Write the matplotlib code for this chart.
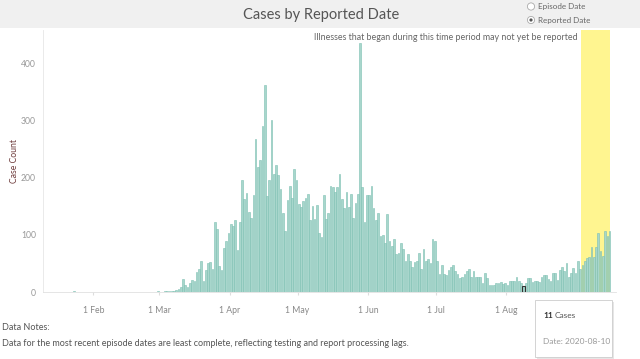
import matplotlib
matplotlib.use('Agg')
import matplotlib.pyplot as plt
import matplotlib.dates as mdates
from matplotlib.patches import Rectangle, Circle
import pandas as pd

# daily case counts by reported date, starting 2020-01-23
start_date = '2020-01-23'
cases_jan = [1, 0, 0, 0, 0, 0, 0, 0, 0]
cases_feb = [0, 0, 0, 0, 0, 0, 0, 0, 0, 0, 0, 0, 0, 0, 0, 0, 0, 0, 0, 0,
             0, 0, 0, 0, 0, 0, 0, 0, 1]
cases_mar = [0, 0, 1, 1, 2, 2, 2, 4, 6, 9, 23, 13, 8, 15, 21, 19, 35, 41, 55, 20,
             38, 51, 53, 41, 122, 110, 46, 38, 77, 90, 103]
cases_apr = [119, 115, 125, 73, 123, 195, 163, 173, 140, 130, 170, 267, 218, 231, 291,
             362, 168, 195, 301, 207, 222, 204, 180, 138, 106, 160, 185, 165, 215, 195]
cases_may = [153, 149, 159, 165, 172, 126, 151, 128, 152, 104, 96, 170, 128, 138, 185,
             184, 175, 183, 206, 163, 147, 175, 148, 172, 129, 156, 171, 435, 184, 122, 170]
cases_jun = [170, 185, 146, 125, 138, 98, 100, 86, 136, 89, 80, 92, 67, 68, 86,
             75, 55, 66, 55, 44, 52, 55, 68, 41, 76, 54, 57, 51, 92, 89]
cases_jul = [55, 31, 47, 31, 30, 38, 44, 48, 36, 32, 25, 26, 31, 37, 41, 26,
             37, 27, 27, 27, 16, 33, 24, 13, 12, 12, 16, 16, 17, 14, 16]
cases_aug = [12, 20, 20, 20, 26, 20, 16, 11, 16, 24, 24, 17, 20, 20, 17, 26,
             30, 29, 23, 20, 33, 33, 21, 38, 43, 36, 50, 27, 34, 42, 33]
cases_sep = [54, 41, 48, 55, 59, 62, 79, 62, 78, 104, 72, 63, 107, 98, 106]

month_ticks = ['2020-02-01', '2020-03-01', '2020-04-01', '2020-05-01',
               '2020-06-01', '2020-07-01', '2020-08-01']
month_labels = ['1 Feb', '1 Mar', '1 Apr', '1 May', '1 Jun', '1 Jul', '1 Aug']
y_ticks = [0, 100, 200, 300, 400]

recent_start = '2020-09-02 19:00'
recent_end = '2020-09-15 19:00'
hover_date = '2020-08-08'
tooltip_count = '11'
tooltip_date = 'Date: 2020-08-10'

daily_cases = (cases_jan + cases_feb + cases_mar + cases_apr + cases_may
               + cases_jun + cases_jul + cases_aug + cases_sep)
dates = pd.date_range(start_date, periods=len(daily_cases), freq='D')
df = pd.DataFrame({'date': dates, 'cases': daily_cases})

plt.rcParams['font.family'] = ['Lato', 'DejaVu Sans']

fig = plt.figure(figsize=(6.4, 3.59), dpi=100)
W, H = 640, 359

# main chart
ax = fig.add_axes([43 / W, 67 / H, 573 / W, 262 / H])
x = mdates.date2num(df['date']) + 0.5
ax.bar(x, df['cases'], width=0.74, color='#a8d6cc', edgecolor='#7cbfb1',
       linewidth=0.4, zorder=2)

# hovered bar outline
hov = df[df['date'] == pd.Timestamp(hover_date)]
ax.bar(mdates.date2num(hov['date']) + 0.5, hov['cases'], width=1.3,
       fill=False, edgecolor='#333333', linewidth=0.8, zorder=3)

rs = mdates.datestr2num(recent_start)
re_ = mdates.datestr2num(recent_end)
ax.axvspan(rs, re_, color='#fff590', lw=0, zorder=1)
ax.text(rs - 1.3, 0.971, 'Illnesses that began during this time period may not yet be reported',
        transform=ax.get_xaxis_transform(), ha='right', va='center',
        fontsize=6.4, color='#666666')

ax.set_xlim(mdates.datestr2num('2020-02-01') - 22.2, mdates.datestr2num('2020-02-01') + 230.3)
ax.set_ylim(0, 458)

ax.set_xticks([mdates.datestr2num(d) for d in month_ticks])
ax.set_xticklabels(month_labels)
ax.set_yticks(y_ticks)
ax.tick_params(axis='x', length=2, color='#dddddd', labelsize=6.2,
               labelcolor='#888888', pad=8)
ax.tick_params(axis='y', length=0, labelsize=6.2, labelcolor='#999999', pad=5)

for s in ['top', 'right']:
    ax.spines[s].set_visible(False)
ax.spines['left'].set_color('#e6e6e6')
ax.spines['bottom'].set_color('#e0e0e0')
ax.spines['left'].set_linewidth(0.6)
ax.spines['bottom'].set_linewidth(0.6)

ax.set_ylabel('Case Count', fontsize=6.2, color='#6e3b3b')
ax.yaxis.set_label_coords(-24 / 573, 0.5)

# overlay in pixel coordinates for header, radio buttons, tooltip, notes
ov = fig.add_axes([0, 0, 1, 1], zorder=5)
ov.set_xlim(0, W)
ov.set_ylim(H, 0)
ov.axis('off')
ov.patch.set_alpha(0)

ov.add_patch(Rectangle((0, 0), W, 28, color='#f0f0f0', lw=0, zorder=0))
ov.text(321, 15, 'Cases by Reported Date', ha='center', va='center',
        fontsize=10.5, color='#555555')

for yy, lab, sel in [(6.5, 'Episode Date', False), (20, 'Reported Date', True)]:
    ov.add_patch(Circle((531, yy), 3.6, facecolor='white', edgecolor='#aaaaaa', lw=0.6))
    if sel:
        ov.add_patch(Circle((531, yy), 1.6, facecolor='#555555', lw=0))
    ov.text(538, yy, lab, ha='left', va='center', fontsize=5.8, color='#666666')

ov.text(2, 328, 'Data Notes:', ha='left', va='center', fontsize=6.5, color='#555555')
ov.text(2, 344, 'Data for the most recent episode dates are least complete, '
        'reflecting testing and report processing lags.',
        ha='left', va='center', fontsize=6.5, color='#555555')

# tooltip box
ov.add_patch(Rectangle((537, 302), 77, 57, facecolor='#e6e6e6', lw=0, zorder=3))
ov.add_patch(Rectangle((535, 300), 77, 57, facecolor='white', edgecolor='#cccccc',
                       lw=0.6, zorder=4))
t_count = ov.text(543, 316, tooltip_count, ha='left', va='center', fontsize=6.0,
                  color='#333333', fontweight='bold', zorder=5)
ov.annotate('Cases', xy=(1, 0.5), xycoords=t_count, xytext=(1.5, 0),
            textcoords='offset points', ha='left', va='center', fontsize=6.0,
            color='#555555', zorder=5)
ov.text(543, 342, tooltip_date, ha='left', va='center', fontsize=6.0,
        color='#999999', zorder=5)

fig.savefig('out.png', dpi=100)
